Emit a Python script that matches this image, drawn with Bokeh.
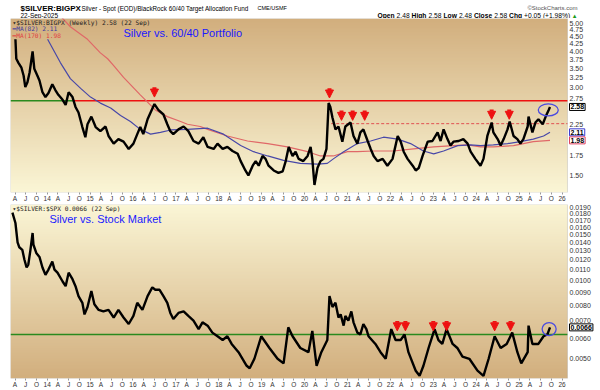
import numpy as np
from bokeh.plotting import figure
from bokeh.layouts import column
from bokeh.models import (Range1d, FixedTicker, PrintfTickFormatter, Label,
                          Arrow, NormalHead, ColumnDataSource, BoxAnnotation)
from bokeh.embed import file_html
from bokeh.resources import INLINE

# ---------------- data ----------------
silver_bigpx_dates = [
    2013.26, 2013.28, 2013.33, 2013.40, 2013.45, 2013.49, 2013.54, 2013.59, 2013.66, 2013.70,
    2013.77, 2013.82, 2013.89, 2013.96, 2014.03, 2014.12, 2014.19, 2014.26, 2014.36, 2014.43,
    2014.50, 2014.59, 2014.66, 2014.73, 2014.82, 2014.89, 2014.94, 2015.03, 2015.13, 2015.24,
    2015.36, 2015.43, 2015.55, 2015.66, 2015.78, 2015.90, 2016.01, 2016.10, 2016.17, 2016.24,
    2016.34, 2016.41, 2016.50, 2016.59, 2016.71, 2016.80, 2016.87, 2016.94, 2017.06, 2017.18,
    2017.29, 2017.41, 2017.53, 2017.64, 2017.74, 2017.88, 2017.97, 2018.09, 2018.20, 2018.32,
    2018.44, 2018.51, 2018.62, 2018.69, 2018.79, 2018.86, 2018.93, 2019.02, 2019.09, 2019.16,
    2019.28, 2019.39, 2019.49, 2019.56, 2019.63, 2019.72, 2019.79, 2019.86, 2019.97, 2020.07,
    2020.14, 2020.18, 2020.23, 2020.30, 2020.37, 2020.44, 2020.51, 2020.56, 2020.60, 2020.65,
    2020.72, 2020.79, 2020.88, 2020.95, 2021.07, 2021.14, 2021.23, 2021.30, 2021.37, 2021.47,
    2021.54, 2021.61, 2021.70, 2021.82, 2021.93, 2022.05, 2022.17, 2022.24, 2022.31, 2022.40,
    2022.52, 2022.59, 2022.66, 2022.75, 2022.87, 2022.98, 2023.10, 2023.17, 2023.24, 2023.33,
    2023.40, 2023.47, 2023.59, 2023.70, 2023.80, 2023.87, 2023.98, 2024.10, 2024.17, 2024.26,
    2024.36, 2024.40, 2024.50, 2024.57, 2024.64, 2024.73, 2024.78, 2024.87, 2024.96, 2025.03,
    2025.10, 2025.20, 2025.22, 2025.31, 2025.38, 2025.45, 2025.55, 2025.62, 2025.69, 2025.72]
silver_bigpx = [
    4.41, 3.78, 3.66, 3.52, 3.31, 3.02, 3.14, 3.39, 4.01, 3.49,
    3.31, 3.18, 2.90, 2.79, 2.88, 3.09, 2.95, 2.84, 2.73, 2.62,
    2.90, 2.79, 2.58, 2.47, 2.20, 2.03, 2.25, 2.39, 2.20, 2.13,
    2.21, 2.05, 1.93, 2.00, 1.96, 1.85, 1.93, 2.08, 2.20, 2.08,
    2.34, 2.47, 2.64, 2.52, 2.43, 2.25, 2.13, 2.08, 2.16, 2.21,
    2.13, 1.97, 1.93, 2.03, 1.88, 1.85, 1.93, 1.85, 1.88, 1.82,
    1.78, 1.68, 1.56, 1.50, 1.62, 1.68, 1.62, 1.75, 1.71, 1.62,
    1.56, 1.53, 1.55, 1.68, 1.88, 1.75, 1.81, 1.71, 1.68, 1.75,
    1.88, 1.71, 1.39, 1.59, 1.68, 1.71, 1.85, 2.66, 2.58, 2.37,
    2.16, 2.21, 1.96, 2.21, 2.28, 2.05, 1.93, 2.11, 2.16, 1.97,
    1.85, 1.75, 1.68, 1.71, 1.62, 1.71, 2.05, 1.96, 1.81, 1.71,
    1.62, 1.56, 1.59, 1.75, 1.96, 1.97, 2.11, 1.97, 2.16, 2.00,
    1.90, 1.96, 1.97, 2.00, 1.93, 1.81, 1.71, 1.62, 1.71, 2.05,
    2.28, 2.11, 2.00, 1.90, 2.00, 2.16, 2.30, 2.05, 2.00, 1.93,
    2.00, 2.21, 2.39, 2.11, 2.28, 2.34, 2.25, 2.39, 2.52, 2.58]

ma82_dates = [2014.01, 2014.31, 2014.54, 2014.78, 2015.01, 2015.24, 2015.48, 2015.71, 2015.94,
              2016.17, 2016.41, 2016.64, 2016.88, 2017.27, 2017.74, 2018.11, 2018.51, 2018.81,
              2019.14, 2019.51, 2019.90, 2020.30, 2020.53, 2020.67, 2020.91, 2021.23, 2021.54,
              2021.84, 2022.17, 2022.47, 2022.77, 2023.01, 2023.24, 2023.57, 2023.87, 2024.10,
              2024.40, 2024.73, 2025.03, 2025.33, 2025.57, 2025.72]
ma82 = [4.41, 3.66, 3.23, 2.99, 2.79, 2.66, 2.56, 2.41, 2.30,
        2.16, 2.08, 2.11, 2.15, 2.16, 2.18, 2.08, 1.90, 1.81,
        1.75, 1.69, 1.65, 1.64, 1.65, 1.71, 1.81, 1.93, 1.97,
        2.03, 2.00, 1.93, 1.82, 1.78, 1.82, 1.90, 1.91, 1.90,
        1.91, 1.93, 1.96, 2.00, 2.05, 2.11]

ma170_dates = [2014.31, 2014.54, 2014.94, 2015.24, 2015.41, 2015.55, 2015.78, 2016.17, 2016.52,
               2016.80, 2017.11, 2017.27, 2017.57, 2017.74, 2018.20, 2018.67, 2019.14, 2019.60,
               2020.07, 2020.37, 2020.67, 2021.00, 2021.23, 2021.61, 2022.07, 2022.54, 2023.01,
               2023.47, 2023.80, 2024.10, 2024.40, 2024.87, 2025.33, 2025.72]
ma170 = [5.30, 4.87, 4.41, 3.96, 3.78, 3.58, 3.26, 2.84, 2.52,
         2.39, 2.30, 2.25, 2.21, 2.16, 2.05, 1.97, 1.93, 1.88,
         1.81, 1.75, 1.75, 1.81, 1.81, 1.82, 1.82, 1.85, 1.88,
         1.90, 1.91, 1.88, 1.88, 1.90, 1.96, 1.98]

silver_spx_dates = [
    2013.19, 2013.26, 2013.31, 2013.35, 2013.42, 2013.47, 2013.52, 2013.56, 2013.61, 2013.66,
    2013.68, 2013.75, 2013.82, 2013.89, 2013.96, 2014.03, 2014.12, 2014.17, 2014.24, 2014.36,
    2014.43, 2014.50, 2014.59, 2014.66, 2014.73, 2014.82, 2014.87, 2014.94, 2015.03, 2015.10,
    2015.20, 2015.31, 2015.43, 2015.55, 2015.66, 2015.78, 2015.90, 2016.01, 2016.10, 2016.22,
    2016.34, 2016.45, 2016.52, 2016.62, 2016.71, 2016.80, 2016.87, 2016.94, 2017.06, 2017.18,
    2017.29, 2017.41, 2017.53, 2017.62, 2017.74, 2017.85, 2017.97, 2018.09, 2018.20, 2018.30,
    2018.46, 2018.65, 2018.72, 2018.83, 2018.99, 2019.18, 2019.37, 2019.51, 2019.62, 2019.72,
    2019.90, 2020.09, 2020.18, 2020.28, 2020.39, 2020.53, 2020.58, 2020.65, 2020.72, 2020.79,
    2020.84, 2020.91, 2020.95, 2021.02, 2021.09, 2021.14, 2021.23, 2021.30, 2021.37, 2021.44,
    2021.49, 2021.65, 2021.77, 2021.89, 2022.02, 2022.12, 2022.24, 2022.33, 2022.42, 2022.59,
    2022.68, 2022.77, 2022.89, 2023.03, 2023.12, 2023.21, 2023.31, 2023.45, 2023.56, 2023.68,
    2023.84, 2024.03, 2024.17, 2024.29, 2024.43, 2024.57, 2024.71, 2024.84, 2024.96, 2025.05,
    2025.20, 2025.22, 2025.31, 2025.45, 2025.57, 2025.66, 2025.72]
silver_spx = [
    0.0182, 0.0166, 0.0140, 0.0134, 0.0131, 0.0120, 0.0112, 0.0115, 0.0131, 0.0152,
    0.0137, 0.0127, 0.0123, 0.0112, 0.0105, 0.0110, 0.0118, 0.0110, 0.0107, 0.0099,
    0.0095, 0.0107, 0.0101, 0.0095, 0.0087, 0.0082, 0.0074, 0.0079, 0.0091, 0.0081,
    0.0077, 0.0076, 0.0077, 0.0072, 0.0077, 0.0072, 0.0068, 0.0073, 0.0082, 0.0077,
    0.0087, 0.0094, 0.0092, 0.0092, 0.0087, 0.0082, 0.0075, 0.0071, 0.0075, 0.0076,
    0.0073, 0.0070, 0.0065, 0.0069, 0.0067, 0.0063, 0.0061, 0.0059, 0.0061, 0.0057,
    0.0053, 0.0047, 0.0046, 0.0050, 0.0061, 0.0055, 0.0050, 0.0048, 0.0066, 0.0061,
    0.0055, 0.0053, 0.0064, 0.0047, 0.0053, 0.0059, 0.0087, 0.0079, 0.0082, 0.0072,
    0.0074, 0.0067, 0.0073, 0.0070, 0.0076, 0.0069, 0.0063, 0.0062, 0.0068, 0.0065,
    0.0061, 0.0057, 0.0053, 0.0050, 0.0065, 0.0059, 0.0059, 0.0062, 0.0053, 0.0045,
    0.0043, 0.0047, 0.0055, 0.0065, 0.0059, 0.0057, 0.0065, 0.0057, 0.0055, 0.0051,
    0.0050, 0.0045, 0.0043, 0.0050, 0.0061, 0.0055, 0.0057, 0.0063, 0.0053, 0.0048,
    0.0053, 0.0067, 0.0057, 0.0057, 0.0061, 0.0062, 0.0066]

bigpx_resistance = 2.71
bigpx_resistance_start = 2014.60
bigpx_dashed = 2.26
bigpx_dashed_start = 2020.62
spx_resistance = 0.0062

bigpx_arrow_dates = [2016.50, 2020.58, 2020.86, 2021.12, 2021.40, 2024.36, 2024.77]
bigpx_arrow_tips = [2.79, 2.77, 2.32, 2.32, 2.32, 2.34, 2.34]
spx_arrow_dates = [2022.16, 2022.35, 2023.00, 2023.31, 2024.43, 2024.80]
spx_arrow_tips = [0.0064, 0.0064, 0.0064, 0.0064, 0.0064, 0.0064]
bigpx_circle = (2025.68, 2.52)
spx_circle = (2025.70, 0.0065)

quote_open, quote_high, quote_low, quote_close = 2.48, 2.58, 2.48, 2.58
quote_chg, quote_chg_pct = 0.05, 1.98

bigpx_ticks = [1.50, 1.75, 2.25, 2.75, 3.00, 3.25, 3.50, 3.75, 4.00, 4.25, 4.50, 4.75, 5.00]
spx_ticks = [0.0050, 0.0060, 0.0070, 0.0080, 0.0090, 0.0100, 0.0110, 0.0120, 0.0130,
             0.0140, 0.0150, 0.0160, 0.0170, 0.0180, 0.0190]
year_ticks = list(range(2014, 2027))
year_labels = ["14", "15", "16", "17", "18", "19", "20", "21", "22", "23", "24", "25", "26"]
month_offsets = [0.25, 0.5, 0.75]
month_labels = ["A", "J", "O"]

# ---------------- styling ----------------
W = 600
X0, X1 = 2013.145, 2026.128        # chart panel (frame left edge .. panel right edge)
XE = X1 + 0.676                    # extra strip on the right that holds the price scale
BIG_Y = (1.31, 5.2)
SPX_Y = (0.0042, 0.01955)
TAN = (210, 175, 126)
CREAM = (251, 246, 214)
RED = "#ee1111"
GREEN = "#2a8a1e"
BLUE_TXT = "#1a1aff"
FONT = "Liberation Sans"
MONO = "DejaVu Sans Mono"

xticks, xlabels = [], {}
for y in range(2013, 2026):
    for off, lab in zip(month_offsets, month_labels):
        t = y + off
        xticks.append(t)
        xlabels[t] = lab
for y, lab in zip(year_ticks, year_labels):
    xticks.append(float(y))
    xlabels[float(y)] = lab
xticks.sort()

x_range = Range1d(X0, XE)


def gradient(top_rgb, bottom_rgb, n=120):
    t = np.linspace(0.0, 1.0, n)[:, None]
    b = np.array(bottom_rgb, dtype=float)
    tp = np.array(top_rgb, dtype=float)
    rgb = b + (tp - b) * t
    img = np.empty((n, 1), dtype=np.uint32)
    v = img.view(dtype=np.uint8).reshape((n, 1, 4))
    v[:, 0, 0] = rgb[:, 0]
    v[:, 0, 1] = rgb[:, 1]
    v[:, 0, 2] = rgb[:, 2]
    v[:, 0, 3] = 255
    return img


def make_fig(height, yr, ticks, fmt, top_rgb, bottom_rgb):
    p = figure(width=W, height=height, x_range=x_range, y_range=Range1d(*yr),
               y_axis_type="log", y_axis_location="right", output_backend="svg",
               toolbar_location=None, min_border_left=10, min_border_right=4,
               min_border_top=0, min_border_bottom=10)
    p.image_rgba(image=[gradient(top_rgb, bottom_rgb)], x=X0, y=yr[0],
                 dw=X1 - X0, dh=yr[1] - yr[0])
    p.grid.visible = False
    p.outline_line_color = None
    p.background_fill_color = "white"
    p.border_fill_color = "white"
    p.add_layout(BoxAnnotation(left=X0, right=X1, fill_alpha=0, line_color="#9a9a9a",
                               line_width=1))
    p.yaxis.ticker = FixedTicker(ticks=ticks)
    p.yaxis.formatter = PrintfTickFormatter(format=fmt)
    p.yaxis.axis_line_color = None
    p.yaxis.major_tick_line_color = None
    p.yaxis.major_tick_out = 0
    p.yaxis.major_tick_in = 0
    p.yaxis.major_label_standoff = -27
    p.yaxis.major_label_text_font = FONT
    p.yaxis.major_label_text_font_size = "7px"
    p.yaxis.major_label_text_color = "#333333"
    p.xaxis.ticker = FixedTicker(ticks=xticks)
    p.xaxis.major_label_overrides = xlabels
    p.xaxis.axis_line_color = None
    p.xaxis.major_tick_out = 2
    p.xaxis.major_tick_in = 0
    p.xaxis.major_tick_line_color = "#999999"
    p.xaxis.major_label_standoff = 0
    p.xaxis.major_label_text_font = FONT
    p.xaxis.major_label_text_font_size = "6.5px"
    p.xaxis.major_label_text_color = "#333333"
    return p


def label(p, x, y, text, size, color="black", style="normal", font=FONT,
          align="left", baseline="alphabetic"):
    p.add_layout(Label(x=x, y=y, x_units="screen", y_units="screen", text=text,
                       text_font=font, text_font_size=f"{size}px", text_color=color,
                       text_font_style=style, text_align=align, text_baseline=baseline))


def arrows(p, dates, tips, factor):
    src = ColumnDataSource(dict(x=dates, y0=[t * factor for t in tips], y1=tips))
    p.add_layout(Arrow(end=NormalHead(size=8, fill_color=RED, line_color=RED),
                       x_start="x", y_start="y0", x_end="x", y_end="y1",
                       line_color=RED, line_width=4, source=src))


def value_box(p, yv, text, color):
    p.add_layout(Label(x=X1, y=yv, x_offset=2, text=text,
                       text_font=FONT, text_font_size="7px", text_font_style="bold",
                       text_baseline="middle", text_color="black",
                       border_line_color=color, border_line_width=1,
                       background_fill_color="white", padding=1))


# ---------------- header strip ----------------
HEAD_H = 18
head = figure(width=W, height=HEAD_H, x_range=Range1d(0, 1), y_range=Range1d(0, 1),
              x_axis_location=None, y_axis_location=None, output_backend="svg",
              toolbar_location=None, min_border=0)
head.grid.visible = False
head.outline_line_color = None
head.background_fill_color = "white"
head.border_fill_color = "white"

ROW1 = HEAD_H - 7.8      # baselines, measured from the strip bottom
ROW2 = HEAD_H - 15.3
label(head, 10, ROW1, "$SILVER:BIGPX", 8, style="bold")
label(head, 71, ROW1, "Silver - Spot (EOD)/BlackRock 60/40 Target Allocation Fund", 6.3)
label(head, 247, ROW1, "CME/USMF", 5.5)
label(head, 10, ROW2, "22-Sep-2025", 6.5)
label(head, 567, HEAD_H - 7, "\u00a9StockCharts.com", 6, color="#555555", align="right")
quote_parts = [
    ("Open", "bold", 367), (f"{quote_open:.2f}", "normal", 386.1),
    ("High", "bold", 401.1), (f"{quote_high:.2f}", "normal", 418.0),
    ("Low", "bold", 433.0), (f"{quote_low:.2f}", "normal", 448.4),
    ("Close", "bold", 463.4), (f"{quote_close:.2f}", "normal", 483.7),
    ("Chg", "bold", 498.6), (f"+{quote_chg:.2f} (+{quote_chg_pct:.2f}%)", "normal", 513.6),
]
for txt, st, xx in quote_parts:
    label(head, xx, ROW2, txt, 6.7, style=st)
label(head, 562, ROW2, "\u25b2", 5.5, color="#1a9a1a", font="DejaVu Sans")

# ---------------- top panel ----------------
TOP_H = 186
p1 = make_fig(TOP_H, BIG_Y, bigpx_ticks, "%.2f", TAN, CREAM)
FH1 = TOP_H - 10

p1.segment(x0=[X0], y0=[bigpx_resistance], x1=[bigpx_resistance_start], y1=[bigpx_resistance],
           line_color=GREEN, line_width=1.6)
p1.segment(x0=[bigpx_resistance_start], y0=[bigpx_resistance], x1=[X1], y1=[bigpx_resistance],
           line_color=RED, line_width=1.6)
p1.segment(x0=[bigpx_dashed_start], y0=[bigpx_dashed], x1=[X1], y1=[bigpx_dashed],
           line_color="#e05050", line_width=1, line_dash="3 2")
p1.line(ma170_dates, ma170, line_color="#e06868", line_width=1.2)
p1.line(ma82_dates, ma82, line_color="#4848a8", line_width=1.2)
p1.line(silver_bigpx_dates, silver_bigpx, line_color="black", line_width=2.4)
p1.ellipse(x=[bigpx_circle[0]], y=[bigpx_circle[1]], width=20, height=12,
           width_units="screen", height_units="screen", fill_color=None,
           line_color="#4a4ae0", line_width=1.3)
arrows(p1, bigpx_arrow_dates, bigpx_arrow_tips, 1.081)

value_box(p1, silver_bigpx[-1], f"{silver_bigpx[-1]:.2f}", "black")
value_box(p1, ma82[-1], f"{ma82[-1]:.2f}", "#3a3ad0")
value_box(p1, ma170[-1], f"{ma170[-1]:.2f}", "#e04060")

label(p1, 2, FH1 - 6, "\u25be$SILVER:BIGPX (Weekly) 2.58 (22 Sep)", 6.2, font=MONO, color="#222222")
label(p1, 2, FH1 - 12, f"\u2501MA(82) {ma82[-1]:.2f}", 6.2, font=MONO, color="#3a3aa0")
label(p1, 2, FH1 - 19, f"\u2501MA(170) {ma170[-1]:.2f}", 6.2, font=MONO, color="#e04040")
label(p1, 113, FH1 - 16, "Silver vs. 60/40 Portfolio", 11, color=BLUE_TXT, baseline="middle")

# ---------------- bottom panel ----------------
BOT_H = 186
p2 = make_fig(BOT_H, SPX_Y, spx_ticks, "%.4f", CREAM, TAN)
FH2 = BOT_H - 10

p2.segment(x0=[X0], y0=[spx_resistance], x1=[X1], y1=[spx_resistance],
           line_color=GREEN, line_width=1.6)
p2.line(silver_spx_dates, silver_spx, line_color="black", line_width=2.4)
p2.ellipse(x=[spx_circle[0]], y=[spx_circle[1]], width=14, height=13,
           width_units="screen", height_units="screen", fill_color=None,
           line_color="#4a4ae0", line_width=1.3)
arrows(p2, spx_arrow_dates, spx_arrow_tips, 1.091)
value_box(p2, silver_spx[-1], f"{silver_spx[-1]:.4f}", "black")

label(p2, 2, FH2 - 6, "\u25be$SILVER:$SPX 0.0066 (22 Sep)", 6.2, font=MONO, color="#222222")
label(p2, 39, FH2 - 16, "Silver vs. Stock Market", 11, color=BLUE_TXT, baseline="middle")

layout = column(head, p1, p2, spacing=0)
open("out.html", "w").write(file_html(layout, INLINE))
